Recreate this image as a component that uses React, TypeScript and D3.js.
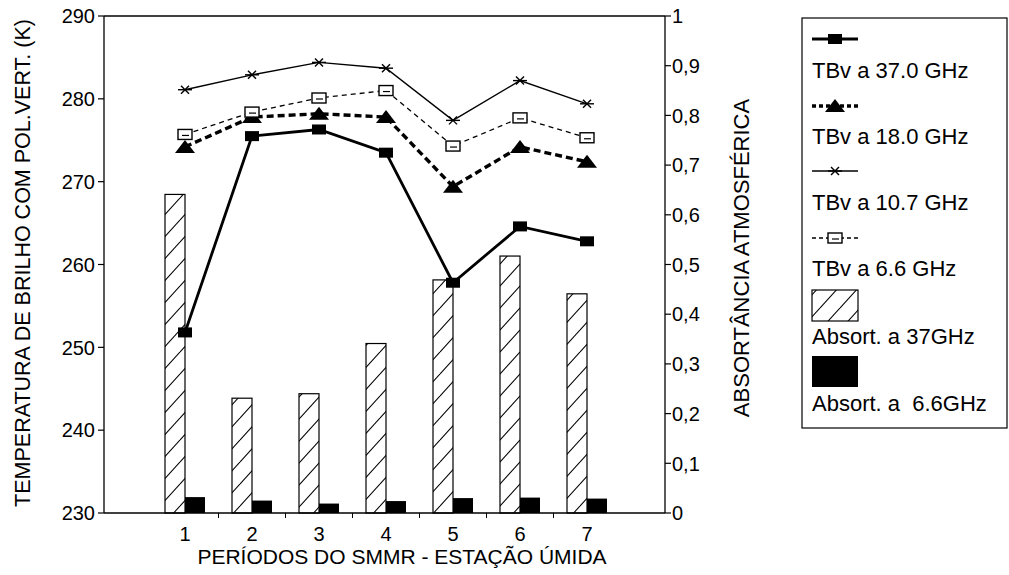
import React from "react";
import * as d3 from "d3";

const periods = ["1", "2", "3", "4", "5", "6", "7"];
const tb37 = [251.8, 275.5, 276.3, 273.5, 257.8, 264.6, 262.8];
const tb18 = [274.2, 277.8, 278.2, 277.8, 269.4, 274.2, 272.4];
const tb107 = [281.1, 282.9, 284.4, 283.7, 277.4, 282.2, 279.4];
const tb66 = [275.7, 278.4, 280.1, 281.0, 274.3, 277.7, 275.3];
const abs37 = [0.641, 0.231, 0.24, 0.341, 0.469, 0.517, 0.441];
const abs66 = [0.032, 0.025, 0.019, 0.024, 0.03, 0.031, 0.029];
const leftTicks = [230, 240, 250, 260, 270, 280, 290];
const rightTicks = [0, 0.1, 0.2, 0.3, 0.4, 0.5, 0.6, 0.7, 0.8, 0.9, 1];
const legendLabels = [
  "TBv a 37.0 GHz",
  "TBv a 18.0 GHz",
  "TBv a 10.7 GHz",
  "TBv a 6.6 GHz",
  "Absort. a 37GHz",
  "Absort. a  6.6GHz",
];

const L = 104, R = 665, T = 16, B = 513;
const FONT = "'Liberation Sans', Arial, sans-serif";

function Marker({ kind, x, y }: { kind: string; x: number; y: number }) {
  if (kind === "sq") return <rect x={x - 7} y={y - 5} width={14} height={10} fill="#000" />;
  if (kind === "tri")
    return <path d={`M${x - 10},${y + 6}L${x + 10},${y + 6}L${x},${y - 7}Z`} fill="#000" />;
  if (kind === "ast")
    return (
      <g stroke="#000" strokeWidth={1.4}>
        <line x1={x - 7} x2={x + 7} y1={y} y2={y} />
        <line x1={x - 4} x2={x + 4} y1={y - 4} y2={y + 4} />
        <line x1={x - 4} x2={x + 4} y1={y + 4} y2={y - 4} />
      </g>
    );
  return (
    <g>
      <rect x={x - 7} y={y - 5} width={14} height={10} fill="#fff" stroke="#000" strokeWidth={1.4} />
      <line x1={x - 3} x2={x + 4} y1={y + 1} y2={y + 1} stroke="#000" strokeWidth={1.2} />
    </g>
  );
}

export default function App() {
  const x = d3.scaleBand<string>().domain(periods).range([151.5, 620.5]);
  const cx = (i: number) => (x(periods[i]) as number) + x.bandwidth() / 2;
  const yL = d3.scaleLinear().domain([230, 290]).range([B, T]);
  const yR = d3.scaleLinear().domain([0, 1]).range([B, T]);
  const line = d3
    .line<number>()
    .x((_, i) => cx(i))
    .y((d) => yL(d));

  const series = [
    { data: tb37, w: 2.8, dash: undefined, m: "sq" },
    { data: tb18, w: 3.4, dash: "7 4", m: "tri" },
    { data: tb107, w: 1.4, dash: undefined, m: "ast" },
    { data: tb66, w: 1.3, dash: "5 4", m: "osq" },
  ];
  const bw = 20;
  const fmtR = (v: number) => (v === 0 || v === 1 ? String(v) : d3.format(".1f")(v).replace(".", ","));

  const legendLineY = [39, 106, 171, 238];
  const legendTextY = [78, 144, 210, 276];

  return (
    <svg width={1009} height={575} style={{ display: "block", position: "absolute", left: 0, top: 0 }} fontFamily={FONT}>
      <defs>
        <pattern id="hatch" patternUnits="userSpaceOnUse" width={20} height={22}>
          <rect width={20} height={22} fill="#fff" />
          <line x1={0} y1={22} x2={20} y2={0} stroke="#000" strokeWidth={1.1} />
          <line x1={-20} y1={22} x2={0} y2={0} stroke="#000" strokeWidth={1.1} />
          <line x1={20} y1={22} x2={40} y2={0} stroke="#000" strokeWidth={1.1} />
        </pattern>
      </defs>
      <rect width={1009} height={575} fill="#fff" />

      {/* bars */}
      {abs37.map((v, i) => (
        <rect key={"h" + i} x={cx(i) - bw} y={yR(v)} width={bw} height={B - yR(v)} fill="url(#hatch)" stroke="#000" strokeWidth={1.2} />
      ))}
      {abs66.map((v, i) => (
        <rect key={"b" + i} x={cx(i)} y={yR(v)} width={bw} height={B - yR(v)} fill="#000" />
      ))}

      {/* frame */}
      <g stroke="#000" strokeWidth={1.3} fill="none">
        <line x1={L} x2={R} y1={T} y2={T} />
        <line x1={L} x2={L} y1={T} y2={B} />
        <line x1={R} x2={R} y1={T} y2={B} />
        <line x1={L} x2={R} y1={B} y2={B} />
      </g>

      {/* lines */}
      {series.map((s, k) => (
        <path key={k} d={line(s.data) as string} fill="none" stroke="#000" strokeWidth={s.w} strokeDasharray={s.dash} />
      ))}
      {series.map((s, k) => s.data.map((v, i) => <Marker key={k + "-" + i} kind={s.m} x={cx(i)} y={yL(v)} />))}

      {/* left axis */}
      {leftTicks.map((t) => (
        <g key={t}>
          <line x1={L - 6} x2={L} y1={yL(t)} y2={yL(t)} stroke="#000" strokeWidth={1.2} />
          <text x={L - 9} y={yL(t)} dy="0.36em" textAnchor="end" fontSize={20}>{t}</text>
        </g>
      ))}
      {/* right axis */}
      {rightTicks.map((t) => (
        <g key={t}>
          <line x1={R} x2={R + 6} y1={yR(t)} y2={yR(t)} stroke="#000" strokeWidth={1.2} />
          <text x={R + 7} y={yR(t)} dy="0.36em" textAnchor="start" fontSize={20}>{fmtR(t)}</text>
        </g>
      ))}
      {/* x axis */}
      {periods.slice(1).map((p) => (
        <line key={p} x1={x(p) as number} x2={x(p) as number} y1={B} y2={B + 5} stroke="#000" strokeWidth={1} />
      ))}
      {periods.map((p, i) => (
        <text key={p} x={cx(i)} y={541} textAnchor="middle" fontSize={20}>{p}</text>
      ))}
      <text x={402} y={564} textAnchor="middle" fontSize={21}>PERÍODOS DO SMMR - ESTAÇÃO ÚMIDA</text>
      <text transform="translate(30,263) rotate(-90)" textAnchor="middle" fontSize={21.5}>TEMPERATURA DE BRILHO COM POL.VERT. (K)</text>
      <text transform="translate(749,258) rotate(-90)" textAnchor="middle" fontSize={22}>ABSORTÂNCIA ATMOSFÉRICA</text>

      {/* legend */}
      <rect x={802} y={18} width={205} height={410} fill="none" stroke="#000" strokeWidth={1.2} />
      {series.map((s, k) => (
        <g key={"lg" + k}>
          <line x1={812} x2={858} y1={legendLineY[k]} y2={legendLineY[k]} stroke="#000" strokeWidth={s.w} strokeDasharray={s.dash ? "4 3" : undefined} />
          <Marker kind={s.m} x={835} y={legendLineY[k]} />
          <text x={812} y={legendTextY[k]} fontSize={22}>{legendLabels[k]}</text>
        </g>
      ))}
      <rect x={812} y={290} width={46} height={31} fill="url(#hatch)" stroke="#000" strokeWidth={1.2} />
      <text x={812} y={344} fontSize={22}>{legendLabels[4]}</text>
      <rect x={812} y={356} width={46} height={31} fill="#000" />
      <text x={812} y={411} fontSize={22} style={{ whiteSpace: "pre" }}>{legendLabels[5]}</text>
    </svg>
  );
}
